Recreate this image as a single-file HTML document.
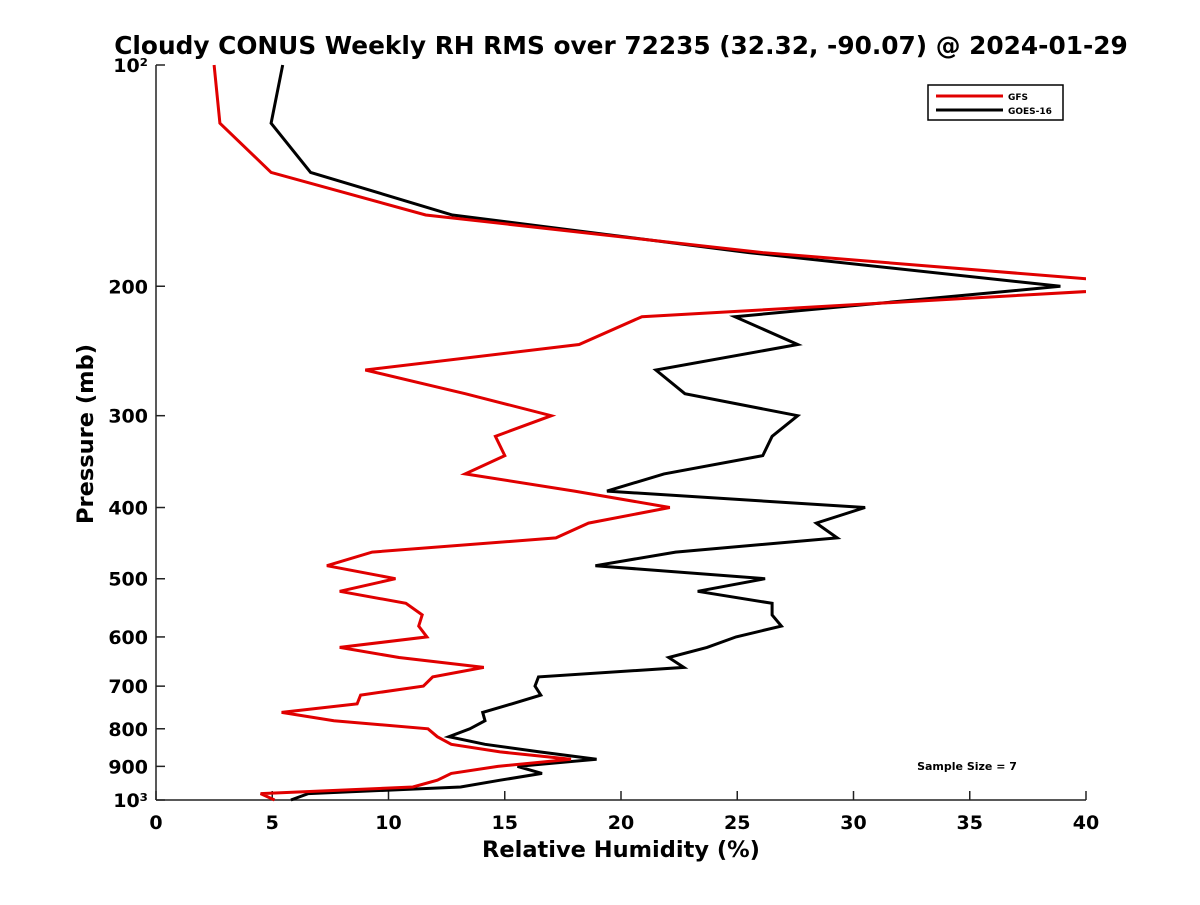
<!DOCTYPE html>
<html><head><meta charset="utf-8"><style>
html,body{margin:0;padding:0;background:#fff;}
svg text{font-family:"DejaVu Sans","Liberation Sans",sans-serif;font-weight:bold;}
</style></head><body>
<svg id="chart" width="1200" height="900" xmlns="http://www.w3.org/2000/svg">
<defs><clipPath id="plotclip"><rect x="156" y="60" width="930" height="745"/></clipPath></defs>
<rect width="1200" height="900" fill="#fff"/>
<text x="621" y="54" font-size="24.8" text-anchor="middle">Cloudy CONUS Weekly RH RMS over 72235 (32.32, -90.07) @ 2024-01-29</text>
<g id="axes"></g>
<g id="series" clip-path="url(#plotclip)"></g>
<text x="621" y="857" font-size="22.5" text-anchor="middle">Relative Humidity (%)</text>
<text transform="translate(93,434) rotate(-90)" font-size="22.5" text-anchor="middle">Pressure (mb)</text>
<g>
<rect x="928" y="85" width="135" height="35" fill="#fff" stroke="#000" stroke-width="1.5"/>
<line x1="936" y1="96" x2="1003" y2="96" stroke="#e00000" stroke-width="3"/>
<text x="1008" y="100" font-size="9">GFS</text>
<line x1="936" y1="110" x2="1003" y2="110" stroke="#000" stroke-width="3"/>
<text x="1008" y="114" font-size="9">GOES-16</text>
</g>
<text x="967" y="770" font-size="11" text-anchor="middle">Sample Size = 7</text>
</svg>
<script>
const pressures=[100,120,140,160,180,200,220,240,260,280,300,320,340,360,380,400,420,440,460,480,500,520,540,560,580,600,620,640,660,680,700,720,740,760,780,800,820,840,860,880,900,920,940,960,980,1000];
const gfsValues=[2.5,2.75,4.95,11.6,26.1,44,20.9,18.2,9.0,13.3,17.0,14.6,15.0,13.3,18.0,22.1,18.6,17.2,9.3,7.35,10.3,7.9,10.75,11.45,11.3,11.65,7.9,10.45,14.1,11.9,11.5,8.8,8.65,5.4,7.65,11.7,12.1,12.7,14.8,17.85,14.7,12.7,12.1,11.05,4.5,5.1];
const goesValues=[5.45,4.95,6.65,12.75,25.5,38.9,24.9,27.6,21.5,22.75,27.6,26.5,26.1,21.85,19.4,30.5,28.4,29.3,22.35,18.9,26.2,23.3,26.5,26.5,26.9,24.95,23.7,22.05,22.7,16.45,16.3,16.55,15.3,14.05,14.15,13.5,12.6,14.15,16.5,18.95,15.55,16.6,14.8,13.1,6.55,5.8];
const xTicks=[0,5,10,15,20,25,30,35,40];
const yTicks=[100,200,300,400,500,600,700,800,900,1000];
const yTickLabels=["10²","200","300","400","500","600","700","800","900","10³"];
const NS="http://www.w3.org/2000/svg";
const X0=156,X1=1086,Y0=65,Y1=800;
function xs(v){return X0+(v-0)/(40-0)*(X1-X0);}
function ys(p){return Y0+Math.log10(p/100)*(Y1-Y0);}
function mk(tag,attrs,parent){const e=document.createElementNS(NS,tag);for(const k in attrs)e.setAttribute(k,attrs[k]);parent.appendChild(e);return e;}
const axes=document.getElementById('axes');
let al=mk('line',{x1:X0,y1:Y0,x2:X0,y2:Y1,stroke:'#222','stroke-width':1.5},axes);


let bl=mk('line',{x1:X0,y1:Y1,x2:X1,y2:Y1,stroke:'#222','stroke-width':1.5},axes);


xTicks.forEach(v=>{
  const x=xs(v);
  const t=mk('line',{x1:x,y1:Y1,x2:x,y2:Y1-9,stroke:'#222','stroke-width':1.5},axes);
  
  
  const l=mk('text',{x:x,y:Y1+29,'font-size':19,'text-anchor':'middle'},axes);
  l.textContent=v;
  
  
});
yTicks.forEach((p,i)=>{
  const y=ys(p);
  const t=mk('line',{x1:X0,y1:y,x2:X0+9,y2:y,stroke:'#222','stroke-width':1.5},axes);
  
  
  const l=mk('text',{x:X0-8,y:y+7,'font-size':19,'text-anchor':'end'},axes);
  l.textContent=yTickLabels[i];
  
  
});
const series=document.getElementById('series');
function drawLine(vals,color,name){
  const pts=vals.map((v,i)=>xs(v).toFixed(1)+','+ys(pressures[i]).toFixed(1)).join(' ');
  const pl=mk('polyline',{points:pts,fill:'none',stroke:color,'stroke-width':3,'stroke-linejoin':'miter'},series);
  
  
}
drawLine(goesValues,'#000','goes16-line');
drawLine(gfsValues,'#e00000','gfs-line');
</script>
</body></html>
